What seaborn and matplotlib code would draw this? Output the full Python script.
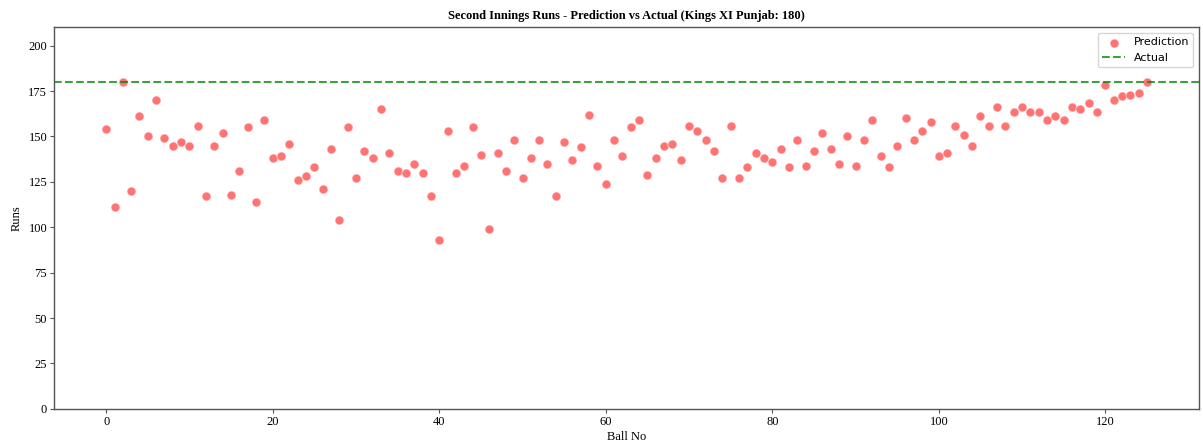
import pandas as pd
import matplotlib
matplotlib.use("Agg")
import matplotlib.pyplot as plt
import seaborn as sns

# predicted final score after each ball
pred_runs = [154, 111, 180, 120, 161, 150, 170, 149, 145, 147,
             145, 156, 117, 145, 152, 118, 131, 155, 114, 159,
             138, 139, 146, 126, 128, 133, 121, 143, 104, 155,
             127, 142, 138, 165, 141, 131, 130, 135, 130, 117,
             93, 153, 130, 134, 155, 140, 99, 141, 131, 148,
             127, 138, 148, 135, 117, 147, 137, 144, 162, 134,
             124, 148, 139, 155, 159, 129, 138, 145, 146, 137,
             156, 153, 148, 142, 127, 156, 127, 133, 141, 138,
             136, 143, 133, 148, 134, 142, 152, 143, 135, 150,
             134, 148, 159, 139, 133, 145, 160, 148, 153, 158,
             139, 141, 156, 151, 145, 161, 156, 166, 156, 163.5,
             166, 163.5, 163.5, 159, 161, 159, 166, 165, 168.5, 163.5,
             178.5, 170, 172, 173, 174, 180]
actual_runs = 180
team = "Kings XI Punjab"

df = pd.DataFrame({"ball": list(range(len(pred_runs))), "pred": pred_runs})

serif = "Liberation Serif"

fig, ax = plt.subplots(figsize=(12.03, 4.43), dpi=100)
sns.scatterplot(data=df, x="ball", y="pred", ax=ax, color="red", alpha=0.55,
                s=42, edgecolor="white", linewidth=0.8, label="Prediction")
ax.axhline(actual_runs, color="green", linestyle="--", alpha=0.75,
           linewidth=1.5, label="Actual")

ax.set_ylim(0, 210)
ax.set_title(f"Second Innings Runs - Prediction vs Actual ({team}: {actual_runs})",
             fontname=serif, fontweight="bold", fontsize=9, pad=6)
ax.set_xlabel("Ball No", fontname=serif, fontsize=9, labelpad=2)
ax.set_ylabel("Runs", fontname=serif, fontsize=9, labelpad=4)
for lbl in ax.get_xticklabels() + ax.get_yticklabels():
    lbl.set_fontname(serif)
    lbl.set_fontsize(9)
ax.tick_params(length=3, width=0.8, color="#555555", pad=2)
for sp in ax.spines.values():
    sp.set_color("#555555")
    sp.set_linewidth(1.0)

ax.legend(loc="upper right", fontsize=8, handletextpad=0.8, borderpad=0.4)

fig.subplots_adjust(left=0.045, right=0.9967, top=0.938, bottom=0.077)
fig.savefig("out.png", dpi=100)
